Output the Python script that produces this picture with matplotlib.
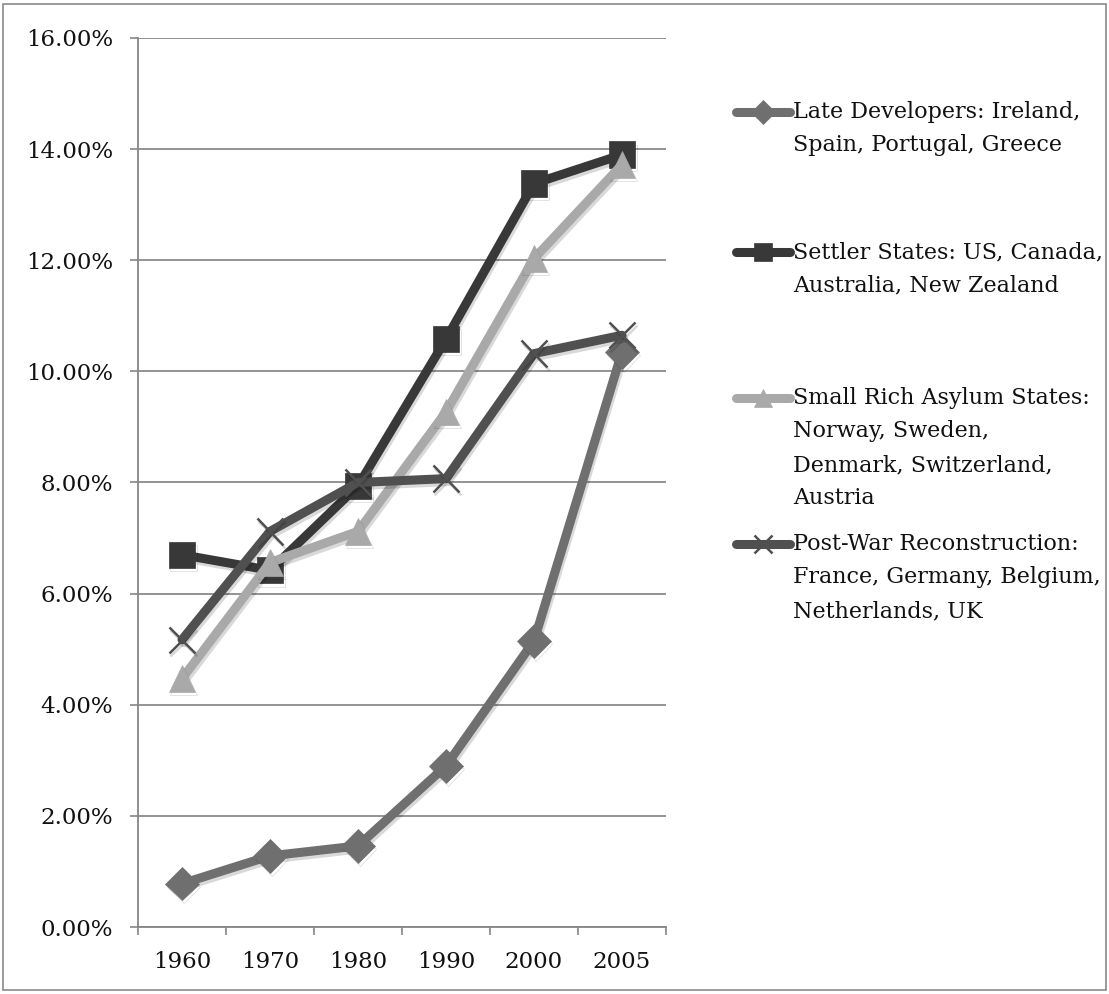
import matplotlib
matplotlib.use("Agg")
import matplotlib.pyplot as plt
import matplotlib.patheffects as pe
from matplotlib.lines import Line2D
from matplotlib.patches import Rectangle
from matplotlib.ticker import FixedLocator, FuncFormatter

# share of foreign-born population, percent
YEARS = ["1960", "1970", "1980", "1990", "2000", "2005"]
LATE_DEV = [0.78, 1.28, 1.46, 2.90, 5.15, 10.35]
SETTLER = [6.70, 6.42, 7.94, 10.58, 13.38, 13.90]
SMALL_RICH = [4.47, 6.56, 7.12, 9.27, 12.03, 13.72]
POST_WAR = [5.17, 7.12, 8.00, 8.07, 10.32, 10.65]

LABELS = [
    "Late Developers: Ireland,\nSpain, Portugal, Greece",
    "Settler States: US, Canada,\nAustralia, New Zealand",
    "Small Rich Asylum States:\nNorway, Sweden,\nDenmark, Switzerland,\nAustria",
    "Post-War Reconstruction:\nFrance, Germany, Belgium,\nNetherlands, UK",
]

FONT = "DejaVu Serif"
plt.rcParams["font.family"] = FONT
TEXT_COL = "#111111"

W, H = 1109, 994
fig = plt.figure(figsize=(W / 100, H / 100), dpi=100)

# thin frame round the whole chart
fig.patches.append(Rectangle((3 / W, 4 / H), (W - 6) / W, (H - 8) / H,
                             transform=fig.transFigure, fill=False,
                             edgecolor="#8a8a8a", lw=1.2))

ax = fig.add_axes([138 / W, (H - 927) / H, (666 - 138) / W, (927 - 38) / H])
x = list(range(len(YEARS)))

shadow = [pe.SimpleLineShadow(offset=(1.2, -2.2), shadow_color="#000000", alpha=0.15),
          pe.Normal()]

series = [
    (LATE_DEV, "#6f6f6f", "D", 17),
    (SETTLER, "#383838", "s", 19),
    (SMALL_RICH, "#a9a9a9", "^", 19),
    (POST_WAR, "#505050", "x", 19),
]
styles = []
for vals, col, mk, ms in series:
    kw = dict(color=col, lw=6.5, marker=mk, markersize=ms, solid_joinstyle="round",
              solid_capstyle="round", markerfacecolor=col, markeredgecolor=col,
              markeredgewidth=1.8 if mk == "x" else 0.5)
    styles.append(kw)
    ax.plot(x, vals, zorder=3, path_effects=shadow, **kw)

ax.set_xlim(-0.5, len(YEARS) - 0.5)
ax.set_ylim(0, 16)
ax.yaxis.set_major_locator(FixedLocator([0, 2, 4, 6, 8, 10, 12, 14, 16]))
ax.yaxis.set_major_formatter(FuncFormatter(lambda v, _: f"{v:.2f}%"))
ax.set_xticks(x)
ax.set_xticklabels(YEARS)
ax.set_xticks([i - 0.5 for i in range(len(YEARS) + 1)], minor=True)
ax.tick_params(axis="x", which="major", length=0, pad=17, labelsize=16.5,
               labelcolor=TEXT_COL)
ax.tick_params(axis="x", which="minor", length=6, width=1.2, color="#868686")
ax.tick_params(axis="y", length=6, width=1.2, color="#868686", pad=12, labelsize=16.5,
               labelcolor=TEXT_COL)
ax.grid(axis="y", color="#8a8a8a", lw=1.3, zorder=0)
ax.set_axisbelow(True)
for side in ("top", "right"):
    ax.spines[side].set_visible(False)
for side in ("left", "bottom"):
    ax.spines[side].set_color("#868686")
    ax.spines[side].set_linewidth(1.3)

# legend on the right, one block per series
entry_top = [112, 252, 398, 544]
line_h = 33.5
for (vals, col, mk, ms), kw, label, ytop in zip(series, styles, LABELS, entry_top):
    yy = 1 - ytop / H
    fig.add_artist(Line2D([736 / W, 790 / W], [yy, yy], transform=fig.transFigure,
                          color=col, lw=6.5, solid_capstyle="round"))
    fig.add_artist(Line2D([763 / W], [yy], transform=fig.transFigure, marker=mk,
                          markersize=ms * 0.7, color=col, markeredgecolor=col,
                          markeredgewidth=kw["markeredgewidth"], linestyle="none"))
    for k, part in enumerate(label.split("\n")):
        fig.text(793 / W, 1 - (ytop + k * line_h) / H, part, fontsize=16,
                 va="center", ha="left", color=TEXT_COL)

fig.savefig("out.png", dpi=100)
